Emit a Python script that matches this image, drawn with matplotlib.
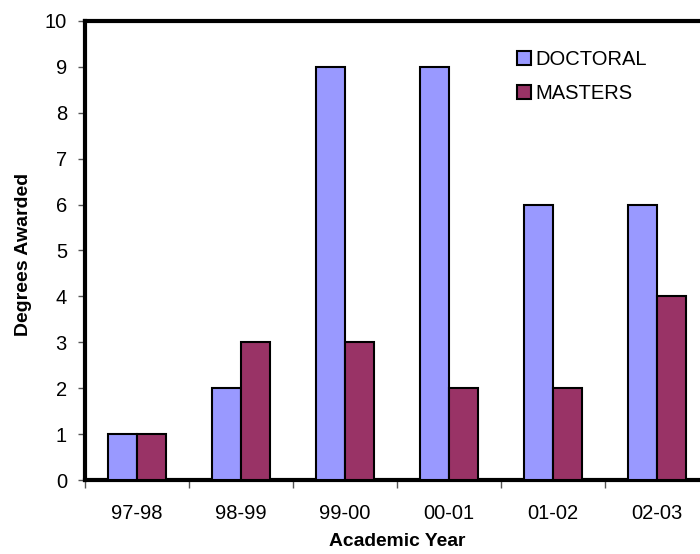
import matplotlib
matplotlib.use("Agg")
import matplotlib.pyplot as plt
import numpy as np
from matplotlib.lines import Line2D

plt.rcParams['font.family'] = ['Liberation Sans', 'DejaVu Sans']

years = ['97-98', '98-99', '99-00', '00-01', '01-02', '02-03']
doctoral = [1, 2, 9, 9, 6, 6]
masters = [1, 3, 3, 2, 2, 4]

c_doc = '#9999FF'
c_mas = '#993366'

fig = plt.figure(figsize=(7, 5.54), dpi=100)
ax = fig.add_axes([85/700, (554-480)/554, (709-85)/700, (480-21)/554])

x = np.arange(len(years))
w = 0.28
ax.bar(x - w/2, doctoral, w, color=c_doc, edgecolor='black', linewidth=1.5, zorder=3, label='DOCTORAL')
ax.bar(x + w/2, masters, w, color=c_mas, edgecolor='black', linewidth=1.5, zorder=3, label='MASTERS')

ax.set_xlim(-0.5, len(years) - 0.5)
ax.set_ylim(0, 10)
ax.set_yticks(range(0, 11))
ax.set_xticks(x)
ax.set_xticklabels(years)
ax.set_xticks(np.arange(-0.5, len(years), 1), minor=True)
ax.tick_params(axis='x', which='major', length=0, pad=17, labelsize=14.5)
ax.tick_params(axis='x', which='minor', length=6, color='#555555', width=1)
ax.tick_params(axis='y', length=5, color='#555555', width=1, labelsize=14.5, pad=8)

for s in ['left', 'top', 'bottom']:
    ax.spines[s].set_linewidth(3)
ax.spines['right'].set_visible(False)

ax.set_xlabel('Academic Year', fontsize=13.9, fontweight='bold')
ax.xaxis.set_label_coords(0.5, (480 - 533.5) / 459)
ax.set_ylabel('Degrees Awarded', fontsize=14, fontweight='bold')
ax.yaxis.set_label_coords((32 - 85) / 624, (480 - 254) / 459)

handles = [Line2D([], [], marker='s', linestyle='none', markersize=9.5, markerfacecolor=c_doc, markeredgecolor='black', markeredgewidth=1.5),
           Line2D([], [], marker='s', linestyle='none', markersize=9.5, markerfacecolor=c_mas, markeredgecolor='black', markeredgewidth=1.5)]
ax.legend(handles, ['DOCTORAL', 'MASTERS'], loc='upper left', bbox_to_anchor=((506-85)/624, (480-42)/459),
          frameon=False, fontsize=14.5, handletextpad=0.05, handlelength=1.0, labelspacing=0.75, borderaxespad=0)

fig.savefig('out.png', dpi=100)
